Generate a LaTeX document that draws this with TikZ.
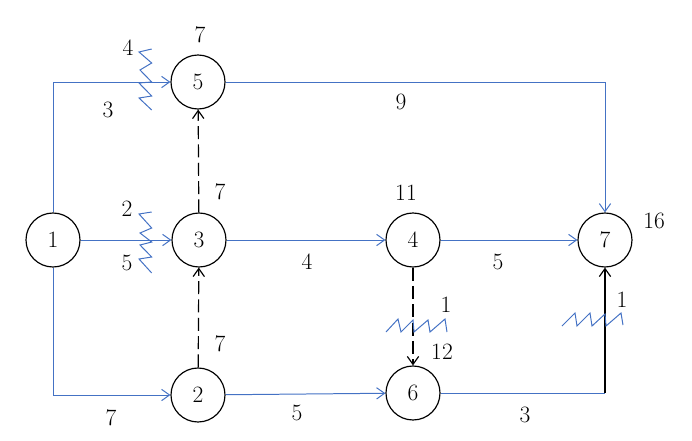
\documentclass[tikz,border=0pt]{standalone}
\usepackage{tikz}
\usetikzlibrary{arrows.meta}
\definecolor{edgeblue}{RGB}{68,114,196}
\newcommand{\eventnode}[3]{
	\node[event] (#3) at (#1,#2) {#3};
}
\tikzset{
	>={Straight Barb[length=2.4mm,width=3.4mm]},
	event/.style = {circle, draw=black, line width=1pt, fill=white, minimum size=1.62cm, inner sep=0pt, font=\fontsize{20}{24}\selectfont},
	weight/.style = {inner sep=0pt, font=\fontsize{20}{24}\selectfont},
	active/.style = {->, edgeblue, line width=0.85pt},
	virtual/.style = {->, black, line width=1pt, dash pattern=on 3.9mm off 1.6mm},
	breakmark/.style = {edgeblue, line width=0.85pt}
}

\begin{document}
\begin{tikzpicture}[x=0.03cm,y=-0.03cm]
	\useasboundingbox (0,0) rectangle (692,440);
	\eventnode{53}{240}{1}
	\eventnode{198}{82}{5}
	\eventnode{199}{240}{3}
	\eventnode{198}{395}{2}
	\eventnode{413}{240}{4}
	\eventnode{413}{393}{6}
	\eventnode{605}{240}{7}
	\coordinate (corner) at (7 |- 6);
	% activities
	\draw[active] (1) |- (5);
	\draw[active] (1) -- (3);
	\draw[active] (1) |- (2);
	\draw[active] (5) -| (7);
	\draw[active] (3) -- (4);
	\draw[active] (4) -- (7);
	\draw[active] (2) -- (6);
	\draw[edgeblue, line width=0.85pt] (6) -- (corner);
	\draw[->, black, line width=1pt] (corner) -- (7);
	% virtual activities
	\draw[virtual] (3) -- (5);
	\draw[virtual] (2) -- (3);
	\draw[virtual] (4) -- (6);
	% break marks
	\draw[breakmark] (151.7,49) -- (139,52) -- (151.7,63) -- (140,70) -- (151.7,82) -- (139,83) -- (151.7,96) -- (139,98) -- (151.7,110);
	\draw[breakmark] (151.7,212) -- (139,214) -- (151.7,228) -- (140,233) -- (151.7,242) -- (140,245) -- (151.7,257) -- (139,259) -- (151.7,273);
	\draw[breakmark] (386,332) -- (398,319) -- (401,332) -- (413,320) -- (414,332) -- (428,320) -- (430,332) -- (445,319) -- (447,332);
	\draw[breakmark] (562,326) -- (575,313) -- (577,326) -- (590,313) -- (592,326) -- (605,314) -- (606,326) -- (621,313) -- (623,325);
	% labels
	\node[weight] (t5) at (200,35) {7};
	\node[weight] (t3) at (220,192) {7};
	\node[weight] (t2) at (220,344) {7};
	\node[weight] (t4) at (406,193) {11};
	\node[weight] (t6) at (442,352) {12};
	\node[weight] (t7) at (654,221) {16};
	\node[weight] (a15) at (108,110) {3};
	\node[weight] (b15) at (128,48) {4};
	\node[weight] (a13) at (127,263) {5};
	\node[weight] (b13) at (127,209) {2};
	\node[weight] (a12) at (111,418) {7};
	\node[weight] (a57) at (401,102) {9};
	\node[weight] (a34) at (307,262) {4};
	\node[weight] (a47) at (498,262) {5};
	\node[weight] (a26) at (297,413) {5};
	\node[weight] (a67) at (525,415) {3};
	\node[weight] (b46) at (446,305) {1};
	\node[weight] (b67) at (622,300) {1};
\end{tikzpicture}
\end{document}
